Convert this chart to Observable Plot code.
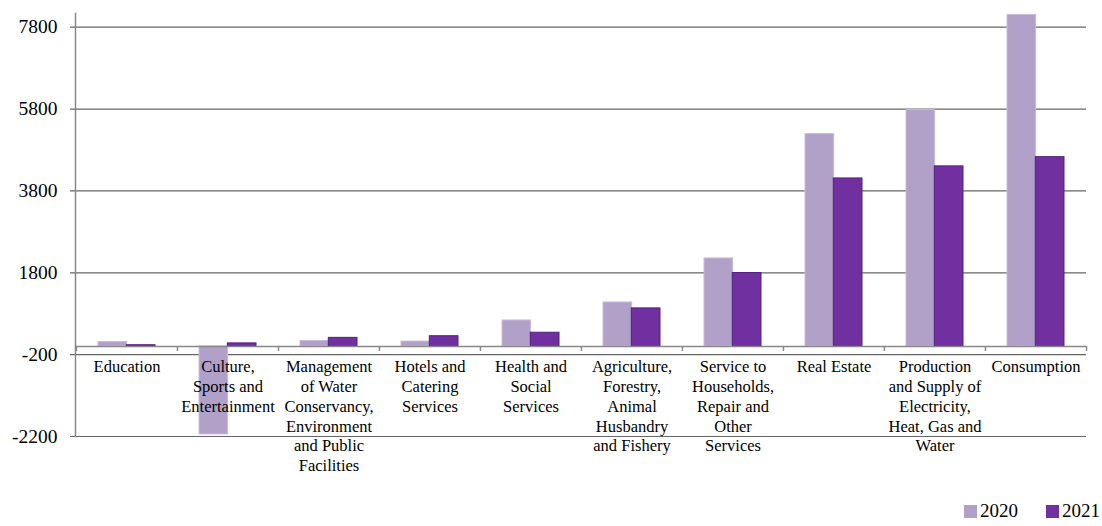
<!DOCTYPE html>
<html>
<head>
<meta charset="utf-8">
<script src="https://cdn.jsdelivr.net/npm/d3@7"></script>
<script src="https://cdn.jsdelivr.net/npm/@observablehq/plot@0.6"></script>
<style>
  html, body { margin: 0; padding: 0; background: #fff; }
  #chart { width: 1102px; }
  #chart svg text { font-family: "Liberation Serif", "Times New Roman", Tinos, "DejaVu Serif", serif !important; }
  #legend { width: 1102px; height: 36px; display: flex; justify-content: flex-end; align-items: center; box-sizing: border-box; padding-right: 2px; padding-top: 6px; }
  div.lg-swatches { font-family: "Liberation Serif", "Times New Roman", Tinos, "DejaVu Serif", serif !important; font-size: 19px !important; color: #000; margin: 0 !important; min-height: 0 !important; }
  div.lg-swatches .lg-swatch { margin-right: 28px !important; }
  div.lg-swatches .lg-swatch:last-child { margin-right: 0 !important; }
  div.lg-swatches .lg-swatch > svg { margin-right: 3px !important; }
</style>
</head>
<body>
<div id="chart"></div>
<div id="legend"></div>
<script>
// ---- data ----
const categories = [
  "Education",
  "Culture, Sports and Entertainment",
  "Management of Water Conservancy, Environment and Public Facilities",
  "Hotels and Catering Services",
  "Health and Social Services",
  "Agriculture, Forestry, Animal Husbandry and Fishery",
  "Service to Households, Repair and Other Services",
  "Real Estate",
  "Production and Supply of Electricity, Heat, Gas and Water",
  "Consumption"
];
const tickLabels = [
  "Education",
  "Culture,\nSports and\nEntertainment",
  "Management\nof Water\nConservancy,\nEnvironment\nand Public\nFacilities",
  "Hotels and\nCatering\nServices",
  "Health and\nSocial\nServices",
  "Agriculture,\nForestry,\nAnimal\nHusbandry\nand Fishery",
  "Service to\nHouseholds,\nRepair and\nOther\nServices",
  "Real Estate",
  "Production\nand Supply of\nElectricity,\nHeat, Gas and\nWater",
  "Consumption"
];
const years = ["2020", "2021"];
const values2020 = [110, -2150, 135, 120, 635, 1075, 2150, 5190, 5775, 8100];
const values2021 = [30, 75, 210, 250, 335, 930, 1795, 4105, 4400, 4625];
const yTicks = [-2200, -200, 1800, 3800, 5800, 7800];
const colors = ["#b1a0c7", "#7030a0"];
const strokes = ["#c8bcda", "#52207e"];

// ---- layout ----
const W = 1102, H = 490;
const mL = 75, mR = 16, mT = 13, mB = 54;
const padInner = 0.44, padOuter = 0.22;
const step = (W - mL - mR) / categories.length;
const half = step * (1 - padInner) / 2;

const rows = categories.map((c, i) => ({cat: c, label: tickLabels[i], v20: values2020[i], v21: values2021[i]}));
const font = "'Liberation Serif', 'Times New Roman', serif";

const chart = Plot.plot({
  width: W, height: H,
  marginLeft: mL, marginRight: mR, marginTop: mT, marginBottom: mB,
  style: {fontFamily: font, background: "#fff"},
  x: {domain: categories, paddingInner: padInner, paddingOuter: padOuter, axis: null},
  y: {domain: [-2200, 8135], axis: null},
  marks: [
    Plot.ruleY(yTicks, {stroke: "#666", strokeWidth: 1.2, insetLeft: -5}),
    Plot.barY(rows, {x: "cat", y: "v20", fill: colors[0], stroke: strokes[0], strokeWidth: 1, insetRight: half}),
    Plot.barY(rows, {x: "cat", y: "v21", fill: colors[1], stroke: strokes[1], strokeWidth: 1, insetLeft: half}),
    Plot.ruleY([0], {stroke: "#888", strokeWidth: 1.5}),
    Plot.ruleX(categories, {x: d => d, y1: () => 0, y2: () => 0, insetBottom: -5, dx: -step / 2, stroke: "#888", strokeWidth: 1.5}),
    Plot.ruleX(categories.slice(-1), {x: d => d, y1: () => 0, y2: () => 0, insetBottom: -5, dx: step / 2, stroke: "#888", strokeWidth: 1.5}),
    Plot.frame({anchor: "left", stroke: "#888", strokeWidth: 1.5}),
    Plot.axisY({ticks: yTicks, tickSize: 0, tickPadding: 18, tickFormat: d => String(d), fontSize: 19.5, fill: "#000", label: null}),
    Plot.text(rows, {x: "cat", y: () => 0, text: "label", lineAnchor: "top", dy: 11, fontSize: 16.5, lineHeight: 1.21, fill: "#000"})
  ]
});
document.getElementById("chart").appendChild(chart);

const legend = Plot.legend({
  color: {type: "ordinal", domain: years, range: colors},
  legend: "swatches",
  swatchSize: 13,
  className: "lg"
});
document.getElementById("legend").appendChild(legend);
</script>
</body>
</html>
